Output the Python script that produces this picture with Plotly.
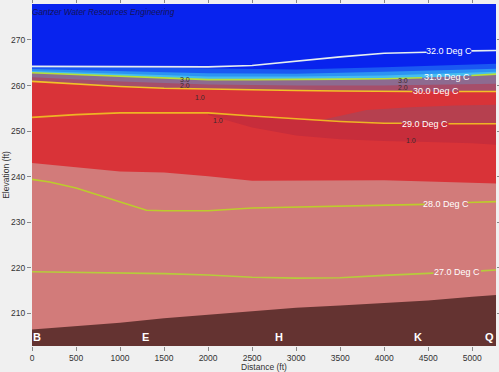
import plotly.graph_objects as go

# ---------------- data (distance in ft, elevation in ft) ----------------
dist = [0, 500, 1000, 1500, 2000, 2500, 3000, 3500, 4000, 4500, 5000, 5270]

# isotherm elevations (None = gap where the label sits)
iso32_d = [0, 500, 1000, 1500, 2000, 2500, 3000, 3500, 4000, 4480, None, 4990, 5270]
iso32_z = [264.2, 264.2, 264.2, 264.1, 264.1, 264.4, 265.4, 266.3, 267.1, 267.3, None, 267.6, 267.7]
iso31_d = [0, 500, 1000, 1500, 2000, 2500, 3000, 3500, 4000, 4430, None, 4990, 5270]
iso31_z = [262.8, 262.4, 262.0, 261.6, 261.3, 261.3, 261.3, 261.4, 261.5, 261.7, None, 262.2, 262.5]
iso30_d = [0, 500, 1000, 1500, 2000, 2500, 3000, 3500, 4000, 4320, None, 4850, 5270]
iso30_z = [260.9, 260.3, 259.8, 259.4, 259.2, 259.0, 258.9, 258.8, 258.7, 258.7, None, 258.7, 258.7]
iso29_d = [0, 500, 1000, 1500, 2000, 2500, 3000, 3500, 4000, 4200, None, 4730, 5270]
iso29_z = [253.0, 253.6, 254.0, 254.0, 254.0, 253.3, 252.7, 252.1, 251.7, 251.7, None, 251.6, 251.6]
iso28_d = [0, 200, 500, 1000, 1300, 1500, 2000, 2500, 3000, 3500, 4000, 4460, None, 4950, 5270]
iso28_z = [239.4, 238.8, 237.5, 234.4, 232.6, 232.5, 232.5, 233.1, 233.3, 233.5, 233.8, 233.9, None, 234.3, 234.5]
iso27_d = [0, 500, 1000, 1500, 2000, 2500, 3000, 3500, 4000, 4560, None, 5100, 5270]
iso27_z = [219.1, 219.0, 218.9, 218.7, 218.4, 217.9, 217.7, 217.8, 218.3, 218.8, None, 219.3, 219.5]

iso_labels = ["32.0 Deg C", "31.0 Deg C", "30.0 Deg C", "29.0 Deg C", "28.0 Deg C", "27.0 Deg C"]
iso_label_d = [4735, 4710, 4585, 4465, 4705, 4830]
iso_label_z = [267.5, 261.9, 258.7, 251.6, 234.0, 219.0]
iso_colors = ["#e6eef0", "#b6e03a", "#f2c227", "#eeb424", "#bccc2c", "#b6cc3c"]

# colour-band boundaries (top of each band)
grad_d = [0, 1000, 2000, 3000, 4000, 5270]
g1_z = [264.3, 264.0, 263.7, 263.5, 264.0, 264.8]
g2_z = [263.6, 263.2, 262.7, 262.6, 263.0, 263.7]
g3_z = [263.2, 262.6, 262.0, 262.0, 262.2, 263.0]
mauve_mid_z = [261.8, 260.9, 260.2, 260.0, 260.0, 260.4]

pink_top_z = [243.0, 242.1, 241.1, 240.9, 240.1, 239.1, 239.1, 239.1, 239.2, 238.9, 238.6, 238.5]
bed_z = [206.4, 207.2, 207.9, 208.9, 209.7, 210.5, 211.2, 211.7, 212.2, 212.8, 213.6, 214.0]

# darker patches (top / bottom outlines)
p1_d = [2000, 2500, 3000, 3500, 4000, 4500, 5000, 5270]
p1_top = [253.9, 253.2, 252.6, 252.0, 251.6, 251.5, 251.5, 251.5]
p1_bot = [253.5, 250.8, 249.0, 248.2, 247.8, 247.6, 247.3, 247.0]
p2_d = [3300, 3800, 4300, 4800, 5270]
p2_top = [252.5, 254.6, 255.2, 255.6, 255.8]
p2_bot = [252.3, 251.9, 251.7, 251.7, 251.7]

do_labels = ["3.0", "2.0", "1.0", "1.0", "3.0", "2.0", "1.0"]
do_label_d = [1740, 1740, 1910, 2110, 4215, 4215, 4300]
do_label_z = [261.4, 260.1, 257.3, 252.3, 261.0, 259.5, 247.9]

stations = ["B", "E", "H", "K", "Q"]
station_d = [57, 1284, 2807, 4386, 5200]

x_ticks = [0, 500, 1000, 1500, 2000, 2500, 3000, 3500, 4000, 4500, 5000]
y_ticks = [210, 220, 230, 240, 250, 260, 270]

# ---------------- figure ----------------
def clean(d, z):
    pts = [(a, b) for a, b in zip(d, z) if a is not None]
    return [p[0] for p in pts], [p[1] for p in pts]

fig = go.Figure()

def band(d, z, color):
    fig.add_trace(go.Scatter(x=d, y=z, mode="lines", line=dict(width=0, color=color),
                             fill="tozeroy", fillcolor=color, hoverinfo="skip", showlegend=False))

band(grad_d, g1_z, "#1a58f2")
band(grad_d, g2_z, "#2c93f3")
band(grad_d, g3_z, "#45bdf0")
d31, z31 = clean(iso31_d, iso31_z)
band(d31, z31, "#8d6b90")
band(grad_d, mauve_mid_z, "#a64e6a")
d30, z30 = clean(iso30_d, iso30_z)
band(d30, z30, "#d93338")

def patch(d, top, bot, color):
    fig.add_trace(go.Scatter(x=d + d[::-1], y=top + bot[::-1], mode="lines",
                             line=dict(width=0, color=color), fill="toself", fillcolor=color,
                             hoverinfo="skip", showlegend=False))

patch(p1_d, p1_top, p1_bot, "#c72d3b")
patch(p2_d, p2_top, p2_bot, "#b6404f")

band(dist, pink_top_z, "#d27b7a")
band(dist, bed_z, "#643331")

for (d, z), col in zip([(iso32_d, iso32_z), (iso31_d, iso31_z), (iso30_d, iso30_z),
                        (iso29_d, iso29_z), (iso28_d, iso28_z), (iso27_d, iso27_z)], iso_colors):
    fig.add_trace(go.Scatter(x=d, y=z, mode="lines", line=dict(width=1.6, color=col),
                             connectgaps=False, hoverinfo="skip", showlegend=False))

for t, d, z in zip(iso_labels, iso_label_d, iso_label_z):
    fig.add_annotation(x=d, y=z, text=t, showarrow=False,
                       font=dict(family="Liberation Sans, Arial", size=9, color="white"))

for t, d, z in zip(do_labels, do_label_d, do_label_z):
    fig.add_annotation(x=d, y=z, text=t, showarrow=False,
                       font=dict(family="Liberation Sans, Arial", size=7, color="#3a2a2e"))

for t, d in zip(stations, station_d):
    fig.add_annotation(x=d, y=0, yref="paper", yanchor="bottom", yshift=1, text="<b>%s</b>" % t,
                       showarrow=False, font=dict(family="Liberation Sans, Arial", size=11, color="white"))

fig.add_annotation(x=0, y=1, xref="paper", yref="paper", xanchor="left", yanchor="top",
                   text="<i>Gantzer Water Resources Engineering</i>", showarrow=False,
                   yshift=-1, xshift=-2,
                   font=dict(family="Liberation Sans, Arial", size=8.3, color="#14145a"))

axis_font = dict(family="Liberation Sans, Arial", size=8.5, color="#333333")
fig.update_layout(
    width=499, height=372,
    margin=dict(l=32, r=3, t=4, b=26),
    paper_bgcolor="#f0f0f0",
    plot_bgcolor="#0823ee",
    xaxis=dict(range=[0, 5270], tickvals=x_ticks, ticks="outside", ticklen=4, tickcolor="#888888",
               mirror="ticks", showgrid=False, zeroline=False, showline=False, tickfont=axis_font,
               automargin=False,
               title=dict(text="Distance (ft)", font=axis_font, standoff=0)),
    yaxis=dict(range=[202.8, 277.9], tickvals=y_ticks, ticks="outside", ticklen=4, tickcolor="#888888",
               mirror="ticks", showgrid=False, zeroline=False, showline=False, tickfont=axis_font,
               automargin=False,
               title=dict(text="Elevation (ft)", font=axis_font, standoff=0)),
)

fig.write_html("out.html", config={"displayModeBar": False},
               post_script="document.body.style.margin='0px';")
